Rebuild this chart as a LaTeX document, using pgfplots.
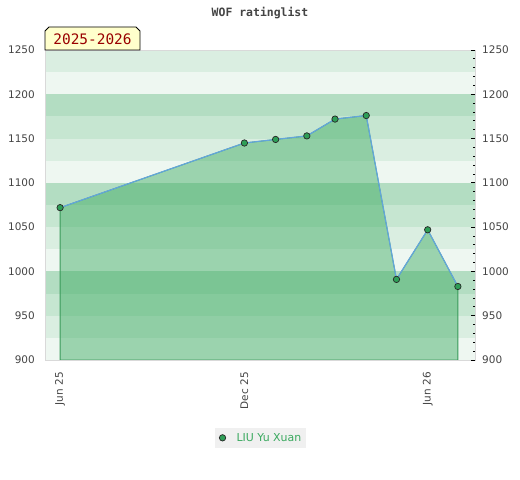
\documentclass[border=0pt]{standalone}
\usepackage{fontspec}
\setmainfont{DejaVu Sans}
\newfontfamily\monof{DejaVu Sans Mono}
\usepackage{pgfplots}
\pgfplotsset{compat=1.18}
\definecolor{bandA}{HTML}{B3DDC2}
\definecolor{bandB}{HTML}{C6E6D1}
\definecolor{bandC}{HTML}{DAEEE1}
\definecolor{bandD}{HTML}{EEF7F1}
\definecolor{areafill}{RGB}{58,169,95}
\definecolor{edgec}{HTML}{3A9A5A}
\definecolor{linec}{HTML}{63A5DC}
\definecolor{markc}{HTML}{2E9E57}
\definecolor{txt}{HTML}{444444}
\definecolor{legbg}{HTML}{F0F0F0}
\definecolor{leggreen}{HTML}{3AA95F}
\definecolor{boxyellow}{HTML}{FFFFCC}
\definecolor{darkred}{HTML}{990000}
\begin{document}
\begin{tikzpicture}[x=1bp,y=1bp]
\useasboundingbox (0,0) rectangle (520,480);
\node[font=\monof\bfseries\fontsize{11.5}{13}\selectfont, text=txt] at (260,467) {WOF ratinglist};
\begin{axis}[
  at={(45bp,120bp)}, anchor=south west,
  scale only axis, width=430bp, height=310bp,
  xmin=-15, xmax=412, ymin=900, ymax=1250,
  /pgf/number format/1000 sep={},
  /pgf/number format/assume math mode=true,
  axis on top,
  axis line style={draw=black!15, line width=0.8bp},
  xtick={0,183,365}, xticklabels={Jun 25,Dec 25,Jun 26},
  xtick style={draw=none},
  xticklabel style={rotate=90, anchor=east, inner sep=0pt, font=\fontsize{10.5}{12}\selectfont, text=txt},
  xticklabel shift=12bp,
  ytick={900,950,...,1250},
  ytick style={draw=none},
  yticklabel pos=left,
  yticklabel style={anchor=east, inner sep=0pt, font=\fontsize{10.5}{12}\selectfont, text=txt},
  yticklabel shift=10bp,
  legend style={at={(0.501,-0.219)}, anchor=north, fill=legbg, draw=none,
    inner xsep=3bp, inner ysep=3bp, font=\fontsize{11}{13}\selectfont, text=leggreen},
  legend image code/.code={\path[draw=none,fill=none] (0bp,0bp) -- (17bp,0bp); \fill[markc, draw=black!85, line width=0.7bp] (5bp,0bp) circle (3.2bp);},
]
% background bands
\fill[bandC] (axis cs:-15,1225) rectangle (axis cs:412,1250);
\fill[bandD] (axis cs:-15,1200) rectangle (axis cs:412,1225);
\fill[bandA] (axis cs:-15,1175) rectangle (axis cs:412,1200);
\fill[bandB] (axis cs:-15,1150) rectangle (axis cs:412,1175);
\fill[bandC] (axis cs:-15,1125) rectangle (axis cs:412,1150);
\fill[bandD] (axis cs:-15,1100) rectangle (axis cs:412,1125);
\fill[bandA] (axis cs:-15,1075) rectangle (axis cs:412,1100);
\fill[bandB] (axis cs:-15,1050) rectangle (axis cs:412,1075);
\fill[bandC] (axis cs:-15,1025) rectangle (axis cs:412,1050);
\fill[bandD] (axis cs:-15,1000) rectangle (axis cs:412,1025);
\fill[bandA] (axis cs:-15,975) rectangle (axis cs:412,1000);
\fill[bandB] (axis cs:-15,950) rectangle (axis cs:412,975);
\fill[bandC] (axis cs:-15,925) rectangle (axis cs:412,950);
\fill[bandD] (axis cs:-15,900) rectangle (axis cs:412,925);
\addplot[forget plot, draw=edgec, line width=0.8bp, fill=areafill, fill opacity=0.46] coordinates {
(0,1072) (183,1145) (214,1149) (245,1153) (273,1172) (304,1176) (334,991) (365,1047) (395,983)
} \closedcycle;
\addplot[forget plot, draw=linec, line width=1.2bp, mark=none] coordinates {
(0,1072) (183,1145) (214,1149) (245,1153) (273,1172) (304,1176) (334,991) (365,1047) (395,983)
};
\addplot[only marks, mark=*, mark size=3.2bp, mark options={fill=markc, draw=black!85, line width=0.7bp}] coordinates {
(0,1072) (183,1145) (214,1149) (245,1153) (273,1172) (304,1176) (334,991) (365,1047) (395,983)
};
\addlegendentry{LIU Yu Xuan}
\end{axis}
\begin{axis}[
  at={(45bp,120bp)}, anchor=south west,
  scale only axis, width=430bp, height=310bp,
  xmin=-15, xmax=412, ymin=900, ymax=1250,
  /pgf/number format/1000 sep={},
  /pgf/number format/assume math mode=true,
  axis x line=none,
  axis y line*=right,
  axis line style={draw=none},
  ytick={900,950,...,1250},
  minor y tick num=4,
  tick align=inside,
  major tick length=4bp, minor tick length=2.5bp,
  tick style={black, line width=0.8bp},
  yticklabel style={anchor=west, inner sep=0pt, font=\fontsize{10.5}{12}\selectfont, text=txt},
  yticklabel shift=7bp,
]
\end{axis}
\draw[fill=boxyellow, draw=black, line width=0.8bp] (45,430) -- (45,449) -- (49,453) -- (136,453) -- (140,449) -- (140,430) -- cycle;
\node[font=\monof\fontsize{14.5}{16}\selectfont, text=darkred] at (92.5,441) {2025-2026};
\end{tikzpicture}
\end{document}
